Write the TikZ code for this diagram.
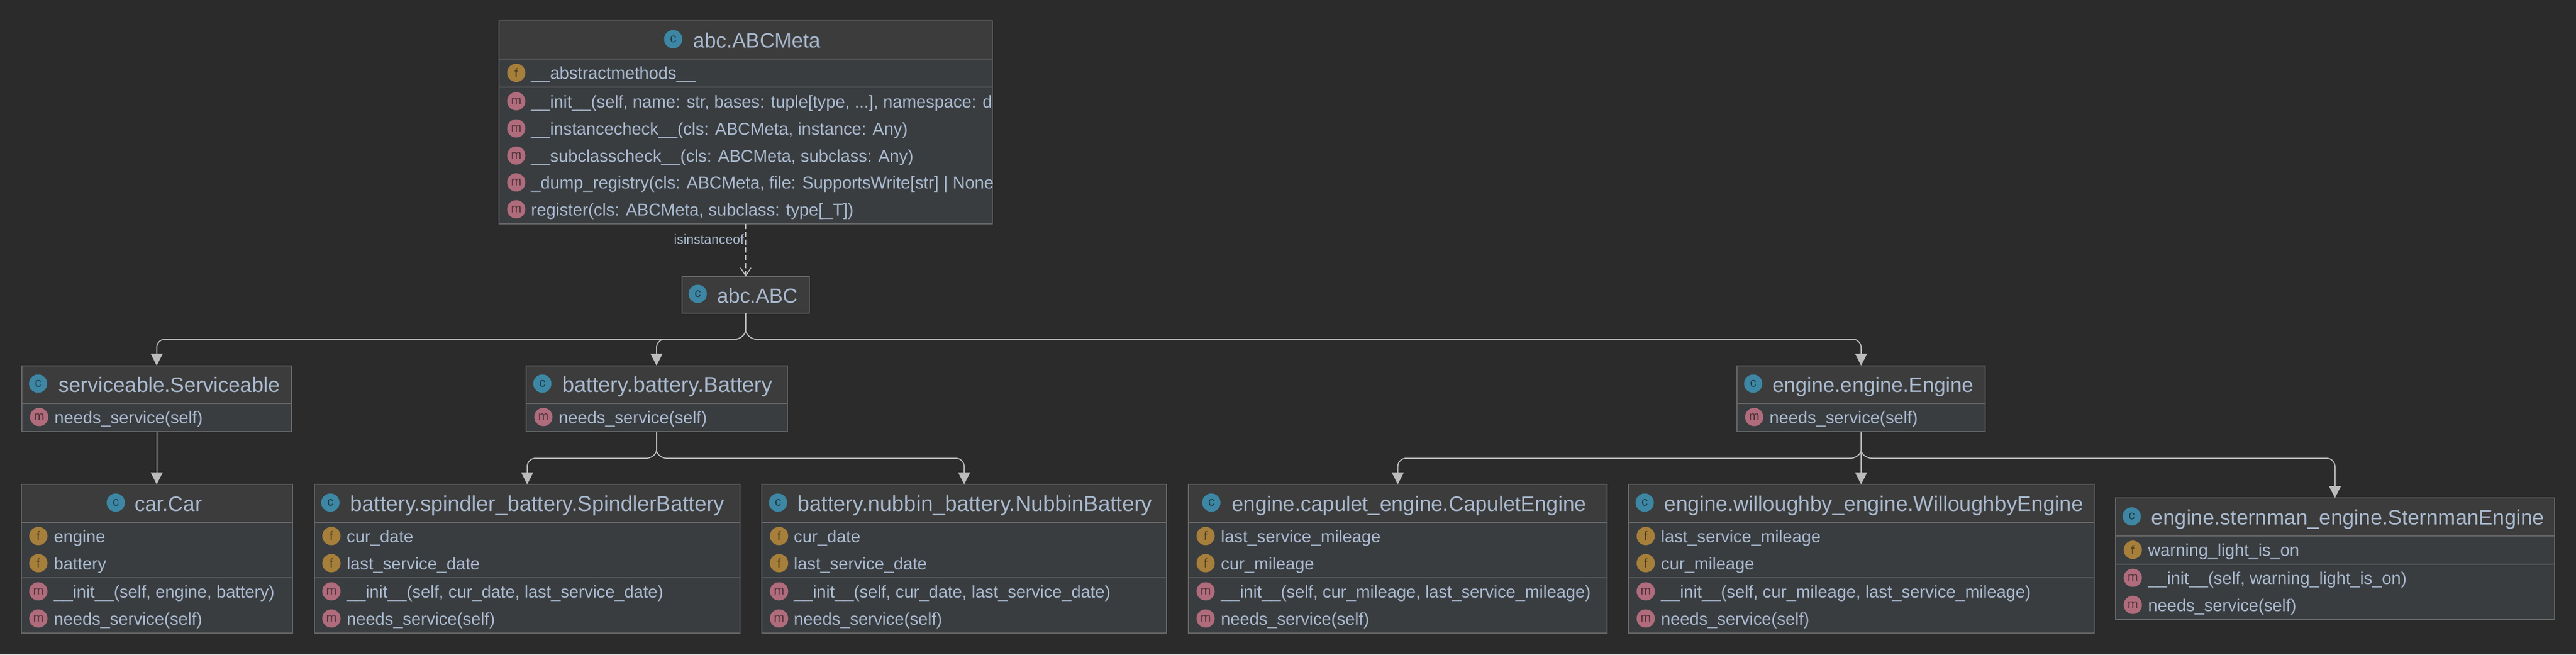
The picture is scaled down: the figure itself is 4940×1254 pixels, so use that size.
\documentclass[tikz,border=0pt]{standalone}
\usepackage{fontspec}
\setmainfont{Liberation Sans}
\usetikzlibrary{positioning,arrows.meta}

\definecolor{pagebg}{HTML}{2B2B2B}
\definecolor{headfill}{HTML}{3C3C3C}
\definecolor{partfill}{HTML}{3A3D40}
\definecolor{boxline}{HTML}{686868}
\definecolor{labelcol}{HTML}{A9B9CE}
\definecolor{edgecol}{HTML}{BBBBBB}
\definecolor{classcol}{HTML}{3D87A4}
\definecolor{fieldcol}{HTML}{A67F3B}
\definecolor{methodcol}{HTML}{B06C7C}

\tikzset{
    classhead/.style={draw=boxline, fill=headfill, line width=1pt, inner sep=0pt, outer sep=0pt, minimum height=36.5pt},
    classpart/.style={draw=boxline, fill=partfill, line width=1pt, inner sep=0pt, outer sep=0pt},
    iconbase/.style={circle, inner sep=0pt, minimum size=17.5pt, font=\fontsize{12}{12}\selectfont},
    iconc/.style={iconbase, fill=classcol, text=classcol!45!black},
    iconf/.style={iconbase, fill=fieldcol, text=fieldcol!45!black},
    iconm/.style={iconbase, fill=methodcol, text=methodcol!45!black},
    titletext/.style={anchor=base west, inner sep=0pt, text=labelcol, font=\fontsize{#1}{24}\selectfont},
    rowtext/.style={anchor=base west, inner sep=0pt, text=labelcol, font=\fontsize{16.4}{20}\selectfont},
    edgelabel/.style={anchor=base east, inner sep=0pt, text=labelcol, font=\fontsize{12.7}{15}\selectfont},
    edge/.style={draw=edgecol, line width=1pt, -{Triangle[length=11.5pt,width=11.5pt]}},
    edgedash/.style={draw=edgecol, line width=1pt, dash pattern=on 5pt off 2.5pt, -{Straight Barb[length=7.5pt,width=10pt]}}
}

\begin{document}
\begin{tikzpicture}[x=0.5pt, y=-0.5pt]
    \fill[pagebg] (0,0) rectangle (4940,1254);
    \useasboundingbox (0,0) rectangle (4940,1254);

    % abc.ABCMeta
    \node[classhead, minimum width=473pt, minimum height=36.3pt] (meta) at (1430,76.3) {};
    \node[classpart, minimum width=473pt, minimum height=27.2pt, below=0pt of meta] (meta-f) {};
    \node[classpart, minimum width=473pt, minimum height=131pt, below=0pt of meta-f] (meta-m) {};
    \node[iconc] (meta-ic) at (1291,75) {c};
    \node[titletext=19.8] (meta-t) at (1329,91.5) {abc.ABCMeta};
    \node[iconf] (meta-if1) at (990,139.5) {f};
    \node[rowtext] (meta-f1) at (1018,151.5) {\_\_abstractmethods\_\_};
    \node[iconm] (meta-im1) at (990,194) {m};
    \node[iconm] (meta-im2) at (990,246) {m};
    \node[iconm] (meta-im3) at (990,298) {m};
    \node[iconm] (meta-im4) at (990,349.5) {m};
    \node[iconm] (meta-im5) at (990,401) {m};
    \begin{scope}
        \clip (meta-m.north west) rectangle (meta-m.south east);
        \node[rowtext] (meta-m1) at (1018,206) {\_\_init\_\_(self, name: str, bases: tuple[type, ...], namespace: di};
        \node[rowtext] (meta-m2) at (1018,258) {\_\_instancecheck\_\_(cls: ABCMeta, instance: Any)};
        \node[rowtext] (meta-m3) at (1018,310) {\_\_subclasscheck\_\_(cls: ABCMeta, subclass: Any)};
        \node[rowtext] (meta-m4) at (1018,361.5) {\_dump\_registry(cls: ABCMeta, file: SupportsWrite[str] | None};
        \node[rowtext] (meta-m5) at (1018,413) {register(cls: ABCMeta, subclass: type[\_T])};
    \end{scope}

    % abc.ABC
    \node[classhead, minimum width=122pt, minimum height=35pt] (abc) at (1430,565) {};
    \node[iconc] (abc-ic) at (1338,563) {c};
    \node[titletext=19.6] (abc-t) at (1375,580) {abc.ABC};

    % serviceable.Serviceable
    \node[classhead, minimum width=258.5pt, minimum height=36.25pt] (serviceable) at (300.5,736.75) {};
    \node[classpart, minimum width=258.5pt, minimum height=27pt, below=0pt of serviceable] (serviceable-m) {};
    \node[iconc] (serviceable-ic) at (73,735) {c};
    \node[titletext=20.1] (serviceable-t) at (112,751) {serviceable.Serviceable};
    \node[iconm] (serviceable-im1) at (75,799) {m};
    \node[rowtext] (serviceable-m1) at (104,811.5) {needs\_service(self)};

    % battery.battery.Battery
    \node[classhead, minimum width=250.5pt, minimum height=36.25pt] (battery) at (1259,736.75) {};
    \node[classpart, minimum width=250.5pt, minimum height=27pt, below=0pt of battery] (battery-m) {};
    \node[iconc] (battery-ic) at (1040,735) {c};
    \node[titletext=20.8] (battery-t) at (1078,751) {battery.battery.Battery};
    \node[iconm] (battery-im1) at (1042,799) {m};
    \node[rowtext] (battery-m1) at (1071,811.5) {needs\_service(self)};

    % engine.engine.Engine
    \node[classhead, minimum width=238pt, minimum height=36.25pt] (engine) at (3569,736.75) {};
    \node[classpart, minimum width=238pt, minimum height=27pt, below=0pt of engine] (engine-m) {};
    \node[iconc] (engine-ic) at (3362,735) {c};
    \node[titletext=19.9] (engine-t) at (3399,751) {engine.engine.Engine};
    \node[iconm] (engine-im1) at (3364,799) {m};
    \node[rowtext] (engine-m1) at (3393,811.5) {needs\_service(self)};

    % car.Car
    \node[classhead, minimum width=260pt] (car) at (300.5,964.5) {};
    \node[classpart, minimum width=260pt, minimum height=53pt, below=0pt of car] (car-f) {};
    \node[classpart, minimum width=260pt, minimum height=53pt, below=0pt of car-f] (car-m) {};
    \node[iconc] (car-ic) at (222,963) {c};
    \node[titletext=20] (car-t) at (258,979.5) {car.Car};
    \node[iconf] (car-if1) at (73.5,1027) {f};
    \node[rowtext] (car-f1) at (103,1039) {engine};
    \node[iconf] (car-if2) at (73.5,1079) {f};
    \node[rowtext] (car-f2) at (103,1091) {battery};
    \node[iconm] (car-im1) at (73.5,1133) {m};
    \node[rowtext] (car-m1) at (103,1145) {\_\_init\_\_(self, engine, battery)};
    \node[iconm] (car-im2) at (73.5,1185) {m};
    \node[rowtext] (car-m2) at (103,1197) {needs\_service(self)};

    % battery.spindler_battery.SpindlerBattery
    \node[classhead, minimum width=408pt] (spindler) at (1011,964.5) {};
    \node[classpart, minimum width=408pt, minimum height=53pt, below=0pt of spindler] (spindler-f) {};
    \node[classpart, minimum width=408pt, minimum height=53pt, below=0pt of spindler-f] (spindler-m) {};
    \node[iconc] (spindler-ic) at (633.5,963) {c};
    \node[titletext=20.6] (spindler-t) at (671.5,979.5) {battery.spindler\_battery.SpindlerBattery};
    \node[iconf] (spindler-if1) at (635.5,1027) {f};
    \node[rowtext] (spindler-f1) at (664.5,1039) {cur\_date};
    \node[iconf] (spindler-if2) at (635.5,1079) {f};
    \node[rowtext] (spindler-f2) at (664.5,1091) {last\_service\_date};
    \node[iconm] (spindler-im1) at (635.5,1133) {m};
    \node[rowtext] (spindler-m1) at (664.5,1145) {\_\_init\_\_(self, cur\_date, last\_service\_date)};
    \node[iconm] (spindler-im2) at (635.5,1185) {m};
    \node[rowtext] (spindler-m2) at (664.5,1197) {needs\_service(self)};

    % battery.nubbin_battery.NubbinBattery
    \node[classhead, minimum width=388.2pt] (nubbin) at (1849,964.5) {};
    \node[classpart, minimum width=388.2pt, minimum height=53pt, below=0pt of nubbin] (nubbin-f) {};
    \node[classpart, minimum width=388.2pt, minimum height=53pt, below=0pt of nubbin-f] (nubbin-m) {};
    \node[iconc] (nubbin-ic) at (1492,963) {c};
    \node[titletext=20.7] (nubbin-t) at (1529.5,979.5) {battery.nubbin\_battery.NubbinBattery};
    \node[iconf] (nubbin-if1) at (1494,1027) {f};
    \node[rowtext] (nubbin-f1) at (1522,1039) {cur\_date};
    \node[iconf] (nubbin-if2) at (1494,1079) {f};
    \node[rowtext] (nubbin-f2) at (1522,1091) {last\_service\_date};
    \node[iconm] (nubbin-im1) at (1494,1133) {m};
    \node[rowtext] (nubbin-m1) at (1522,1145) {\_\_init\_\_(self, cur\_date, last\_service\_date)};
    \node[iconm] (nubbin-im2) at (1494,1185) {m};
    \node[rowtext] (nubbin-m2) at (1522,1197) {needs\_service(self)};

    % engine.capulet_engine.CapuletEngine
    \node[classhead, minimum width=401.5pt] (capulet) at (2680.5,964.5) {};
    \node[classpart, minimum width=401.5pt, minimum height=53pt, below=0pt of capulet] (capulet-f) {};
    \node[classpart, minimum width=401.5pt, minimum height=53pt, below=0pt of capulet-f] (capulet-m) {};
    \node[iconc] (capulet-ic) at (2323,963) {c};
    \node[titletext=20.1] (capulet-t) at (2362,979.5) {engine.capulet\_engine.CapuletEngine};
    \node[iconf] (capulet-if1) at (2312,1027) {f};
    \node[rowtext] (capulet-f1) at (2341,1039) {last\_service\_mileage};
    \node[iconf] (capulet-if2) at (2312,1079) {f};
    \node[rowtext] (capulet-f2) at (2341,1091) {cur\_mileage};
    \node[iconm] (capulet-im1) at (2312,1133) {m};
    \node[rowtext] (capulet-m1) at (2341,1145) {\_\_init\_\_(self, cur\_mileage, last\_service\_mileage)};
    \node[iconm] (capulet-im2) at (2312,1185) {m};
    \node[rowtext] (capulet-m2) at (2341,1197) {needs\_service(self)};

    % engine.willoughby_engine.WilloughbyEngine
    \node[classhead, minimum width=446.5pt] (willoughby) at (3569,964.5) {};
    \node[classpart, minimum width=446.5pt, minimum height=53pt, below=0pt of willoughby] (willoughby-f) {};
    \node[classpart, minimum width=446.5pt, minimum height=53pt, below=0pt of willoughby-f] (willoughby-m) {};
    \node[iconc] (willoughby-ic) at (3154,963) {c};
    \node[titletext=20.3] (willoughby-t) at (3191,979.5) {engine.willoughby\_engine.WilloughbyEngine};
    \node[iconf] (willoughby-if1) at (3156,1027) {f};
    \node[rowtext] (willoughby-f1) at (3185,1039) {last\_service\_mileage};
    \node[iconf] (willoughby-if2) at (3156,1079) {f};
    \node[rowtext] (willoughby-f2) at (3185,1091) {cur\_mileage};
    \node[iconm] (willoughby-im1) at (3156,1133) {m};
    \node[rowtext] (willoughby-m1) at (3185,1145) {\_\_init\_\_(self, cur\_mileage, last\_service\_mileage)};
    \node[iconm] (willoughby-im2) at (3156,1185) {m};
    \node[rowtext] (willoughby-m2) at (3185,1197) {needs\_service(self)};

    % engine.sternman_engine.SternmanEngine
    \node[classhead, minimum width=421.25pt] (sternman) at (4477.75,990.5) {};
    \node[classpart, minimum width=421.25pt, minimum height=26.75pt, below=0pt of sternman] (sternman-f) {};
    \node[classpart, minimum width=421.25pt, minimum height=53.25pt, below=0pt of sternman-f] (sternman-m) {};
    \node[iconc] (sternman-ic) at (4088,989.5) {c};
    \node[titletext=20.1] (sternman-t) at (4125.5,1005.5) {engine.sternman\_engine.SternmanEngine};
    \node[iconf] (sternman-if1) at (4090,1053.5) {f};
    \node[rowtext] (sternman-f1) at (4119,1065.5) {warning\_light\_is\_on};
    \node[iconm] (sternman-im1) at (4090,1107) {m};
    \node[rowtext] (sternman-m1) at (4119,1119) {\_\_init\_\_(self, warning\_light\_is\_on)};
    \node[iconm] (sternman-im2) at (4090,1159) {m};
    \node[rowtext] (sternman-m2) at (4119,1171) {needs\_service(self)};

    % Connectors
    \coordinate (abcsplit) at (1430,632);
    \coordinate (abcl) at (1410,650);
    \coordinate (abcr) at (1450,650);
    \coordinate (batsplit) at (1259,862);
    \coordinate (batl) at (1240,878);
    \coordinate (batr) at (1278,878);
    \coordinate (engsplit) at (3569,862);
    \coordinate (engl) at (3549,878);
    \coordinate (engr) at (3589,878);

    \draw[edgedash] (meta-m.south) -- (abc.north);
    \node[edgelabel] (meta-label) at (1427,467) {isinstanceof};

    \draw[edge] (abc.south) -- (abcsplit) .. controls +(0,10) and +(8,0) .. (abcl) [rounded corners=8pt] -| (serviceable.north);
    \draw[edge] (abc.south) -- (abcsplit) .. controls +(0,10) and +(8,0) .. (abcl) [rounded corners=8pt] -| (battery.north);
    \draw[edge] (abc.south) -- (abcsplit) .. controls +(0,10) and +(-8,0) .. (abcr) [rounded corners=8pt] -| (engine.north);
    \draw[edge] (serviceable-m.south) -- (car.north);
    \draw[edge] (battery-m.south) -- (batsplit) .. controls +(0,9) and +(8,0) .. (batl) [rounded corners=8pt] -| (spindler.north);
    \draw[edge] (battery-m.south) -- (batsplit) .. controls +(0,9) and +(-8,0) .. (batr) [rounded corners=8pt] -| (nubbin.north);
    \draw[edge] (engine-m.south) -- (engsplit) .. controls +(0,9) and +(8,0) .. (engl) [rounded corners=8pt] -| (capulet.north);
    \draw[edge] (engine-m.south) -- (willoughby.north);
    \draw[edge] (engine-m.south) -- (engsplit) .. controls +(0,9) and +(-8,0) .. (engr) [rounded corners=8pt] -| (sternman.north);
\end{tikzpicture}
\end{document}
